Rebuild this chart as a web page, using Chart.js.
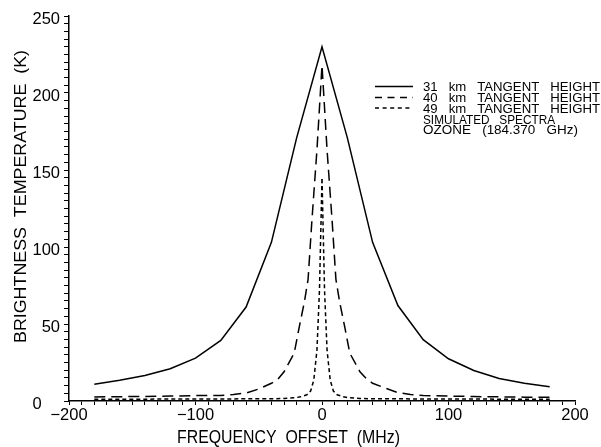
<!DOCTYPE html>
<html>
<head>
<meta charset="utf-8">
<title>Simulated ozone spectra</title>
<script src="https://cdn.jsdelivr.net/npm/chart.js@4/dist/chart.umd.min.js"></script>
<style>
  html, body { margin: 0; padding: 0; background: #fff; }
  canvas { display: block; }
</style>
</head>
<body>
<canvas id="spectra" width="601" height="447"></canvas>
<script>
// Simulated ozone spectra, 184.370 GHz line, three tangent heights
const freq31 = [-180, -160, -140, -120, -100, -80, -60, -40, -20, 0, 20, 40, 60, 80, 100, 120, 140, 160, 180];
const temp31 = [10.9, 13.5, 16.5, 20.9, 27.8, 39.3, 61, 103, 171, 230, 171, 103, 62, 39.8, 27.4, 19.8, 14.6, 11.5, 9.3];

const freq40 = [-180, -160, -140, -120, -100, -80, -70, -60, -50, -40, -35, -30, -22, -18, -14, -11, -8, -4, 0,
                4, 8, 11, 14, 18, 22, 30, 35, 40, 50, 60, 70, 80, 100, 120, 140, 160, 180];
const temp40 = [2.6, 2.8, 3.0, 3.2, 3.5, 3.6, 4.2, 5.2, 7.8, 11.5, 14, 19, 31, 48, 64, 79, 117, 163, 218,
                163, 117, 79, 64, 48, 31, 19, 14.5, 11.5, 8.4, 5.4, 4.2, 3.6, 3.2, 2.9, 2.7, 2.5, 2.4];

const freq49 = [-180, -140, -100, -60, -40, -30, -20, -17, -12, -9, -6.5, -4, -2, 0,
                2, 4, 6.5, 9, 12, 17, 20, 30, 40, 60, 100, 140, 180];
const temp49 = [1.2, 1.2, 1.3, 1.4, 1.5, 1.6, 2.3, 2.7, 4, 6.5, 13.5, 33, 72, 145,
                72, 33, 13.5, 6.5, 4, 2.7, 2.3, 1.6, 1.5, 1.4, 1.3, 1.2, 1.2];

const xLabelled = [-200, -100, 0, 100, 200];
const yLabelled = [0, 50, 100, 150, 200, 250];

const legendRows = [
  '31   km   TANGENT   HEIGHT',
  '40   km   TANGENT   HEIGHT',
  '49   km   TANGENT   HEIGHT',
  'SIMULATED   SPECTRA',
  'OZONE   (184.370   GHz)'
];
const xTitle = 'FREQUENCY  OFFSET  (MHz)';
const yTitle = 'BRIGHTNESS  TEMPERATURE  (K)';

const FONT = "'Liberation Sans', Arial, sans-serif";

function pairs(xs, ys) {
  return xs.map((x, i) => ({ x: x, y: ys[i] }));
}

// draw text squeezed/stretched to a given width (plotter lettering)
function fitText(ctx, text, x, y, width) {
  const w = ctx.measureText(text).width;
  ctx.save();
  ctx.translate(x, y);
  ctx.scale(width / w, 1);
  ctx.fillText(text, 0, 0);
  ctx.restore();
}

const plotterText = {
  id: 'plotterText',
  afterDraw(chart) {
    const ctx = chart.ctx;
    ctx.save();
    ctx.fillStyle = '#000';
    ctx.strokeStyle = '#000';
    ctx.textAlign = 'left';
    ctx.textBaseline = 'alphabetic';

    // axis titles
    ctx.font = '17.5px ' + FONT;
    fitText(ctx, xTitle, 177, 443, 223);
    ctx.save();
    ctx.translate(26, 343);
    ctx.rotate(-Math.PI / 2);
    ctx.font = '16.5px ' + FONT;
    fitText(ctx, yTitle, 0, 0, 293);
    ctx.restore();

    // legend
    ctx.font = '13px ' + FONT;
    const widths = [177, 177, 177, 132, 155];
    const baselines = [91, 102, 112.5, 123.5, 134];
    const dashes = [[], [7, 5.5], [4, 3.6]];
    legendRows.forEach((row, i) => {
      fitText(ctx, row, 423, baselines[i], widths[i]);
      if (i < 3) {
        ctx.beginPath();
        ctx.lineWidth = 1.5;
        ctx.setLineDash(dashes[i]);
        ctx.moveTo(375, baselines[i] - 4.5);
        ctx.lineTo(413, baselines[i] - 4.5);
        ctx.stroke();
      }
    });
    ctx.restore();
  }
};

const lineStyle = { borderColor: '#000', borderWidth: 1.5, pointRadius: 0, tension: 0, fill: false };

new Chart(document.getElementById('spectra'), {
  type: 'line',
  data: {
    datasets: [
      Object.assign({ label: '31 km TANGENT HEIGHT', data: pairs(freq31, temp31) }, lineStyle),
      Object.assign({ label: '40 km TANGENT HEIGHT', data: pairs(freq40, temp40), borderDash: [11, 6] }, lineStyle),
      Object.assign({ label: '49 km TANGENT HEIGHT', data: pairs(freq49, temp49), borderDash: [4, 3] }, lineStyle)
    ]
  },
  options: {
    responsive: false,
    animation: false,
    layout: { padding: { top: 16, right: 26, bottom: 0, left: 0 } },
    plugins: { legend: { display: false }, tooltip: { enabled: false } },
    scales: {
      x: {
        type: 'linear',
        min: -200, max: 200,
        afterFit: s => { s.height = 46; },
        border: { display: true, color: '#000', width: 1.5 },
        grid: { drawOnChartArea: false, drawTicks: true, tickLength: 4, tickColor: '#000', tickWidth: 1 },
        ticks: {
          stepSize: 10, autoSkip: false, maxRotation: 0, padding: 1,
          color: '#000', font: { family: FONT, size: 16.5 },
          callback: v => xLabelled.includes(v) ? String(v).replace('-', '\u2212') : ''
        }
      },
      y: {
        min: 0, max: 250,
        afterFit: s => { s.width = 69; },
        border: { display: true, color: '#000', width: 1.5 },
        grid: { drawOnChartArea: false, drawTicks: true, tickLength: 5, tickColor: '#000', tickWidth: 1 },
        ticks: {
          stepSize: 5, autoSkip: false, padding: 4, labelOffset: 3,
          color: '#000', font: { family: FONT, size: 16.5 },
          // the plotter put its zero further left than the other labels
          callback: v => yLabelled.includes(v) ? (v === 0 ? '0    ' : String(v)) : ''
        }
      }
    }
  },
  plugins: [plotterText]
});
</script>
</body>
</html>
